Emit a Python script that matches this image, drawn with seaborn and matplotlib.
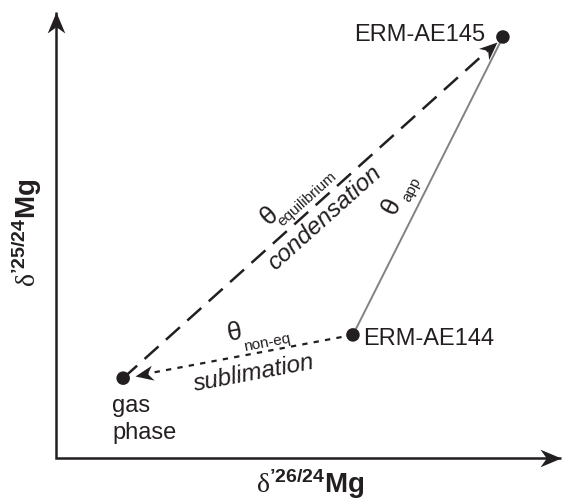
import numpy as np
import matplotlib
matplotlib.use("Agg")
import matplotlib.pyplot as plt
import seaborn as sns
import pandas as pd
from matplotlib.markers import MarkerStyle
from matplotlib.path import Path
from matplotlib.transforms import Affine2D

sns.set_theme(style="white")
plt.rcParams["font.family"] = ["Liberation Sans", "DejaVu Sans"]
plt.rcParams["mathtext.fontset"] = "custom"
plt.rcParams["mathtext.rm"] = "Liberation Serif"
plt.rcParams["mathtext.sf"] = "Liberation Sans"
plt.rcParams["mathtext.bf"] = "Liberation Sans:bold"
plt.rcParams["mathtext.it"] = "Liberation Sans:italic"
plt.rcParams["mathtext.default"] = "sf"

# ---- data (arbitrary units) ----
samples = ["gas phase", "ERM-AE144", "ERM-AE145"]
d26 = [1.33, 5.88, 8.85]
d25 = [1.79, 2.76, 9.44]
x_label = r"$\mathrm{δ}^{\mathbf{’26/24}}\mathbf{Mg}$"
y_label = r"$\mathrm{δ}^{\mathbf{’25/24}}\mathbf{Mg}$"

BLACK = "#231f20"
GRAY = "#808285"
W, H = 562, 504

fig = plt.figure(figsize=(W / 100, H / 100), dpi=100)
ax = fig.add_axes([56 / W, (H - 458) / H, (561 - 56) / W, (458 - 12) / H])
ax.set_xlim(0, 10)
ax.set_ylim(0, 10)
ax.axis("off")

df = pd.DataFrame({"sample": samples, "d26": d26, "d25": d25})

stealth = Path([(0, 0), (-1, 0.42), (-0.7, 0), (-1, -0.42), (0, 0)],
               [Path.MOVETO, Path.LINETO, Path.LINETO, Path.LINETO, Path.CLOSEPOLY])


def head(x, y, angle, length_px, transform=None, color=BLACK):
    m = MarkerStyle(stealth, transform=Affine2D().rotate_deg(angle))
    kw = dict(marker=m, markersize=2 * length_px * 0.72, markerfacecolor=color,
              markeredgewidth=0, linestyle="none", clip_on=False, zorder=5)
    if transform is not None:
        kw["transform"] = transform
    ax.plot([x], [y], **kw)


def disp(i):
    return ax.transData.transform((d26[i], d25[i]))


def to_data(p):
    return ax.transData.inverted().transform(p)


def pix(px, py):
    return to_data((px, H - py))


# ---- axes with arrows ----
ax.plot([0, 0, 1], [1, 0, 0], transform=ax.transAxes, color=BLACK, lw=1.8,
        clip_on=False, solid_joinstyle="miter", solid_capstyle="butt")
head(0, 1, 90, 21, transform=ax.transAxes)
head(1, 0, 0, 21, transform=ax.transAxes)

# ---- gray line AE144 -> AE145 ----
sns.lineplot(data=df.iloc[[1, 2]], x="d26", y="d25", sort=False, color=GRAY,
             lw=1.4, ax=ax, zorder=2)

# ---- dashed arrow gas -> AE145 ----
a, b = disp(0), disp(2)
u = (b - a) / np.linalg.norm(b - a)
ang_eq = np.degrees(np.arctan2(u[1], u[0]))
tip = b - u * 8
end = to_data(tip - u * 12)
ax.plot([d26[0], end[0]], [d25[0], end[1]], color=BLACK, lw=1.8,
        linestyle=(0, (7.5, 4)), dash_capstyle="butt", zorder=3)
tp = to_data(tip)
head(tp[0], tp[1], ang_eq, 18)

# ---- dotted arrow AE144 -> gas ----
a, b = disp(1), disp(0)
u = (b - a) / np.linalg.norm(b - a)
ang_ne = np.degrees(np.arctan2(u[1], u[0]))
tip = b - u * 12
end = to_data(tip - u * 12)
ax.plot([d26[1], end[0]], [d25[1], end[1]], color=BLACK, lw=1.6,
        linestyle=(0, (2.4, 2.8)), dash_capstyle="butt", zorder=3)
tp = to_data(tip)
head(tp[0], tp[1], ang_ne, 18)
rot_ne = ang_ne - 180

a, b = disp(1), disp(2)
ang_app = np.degrees(np.arctan2(b[1] - a[1], b[0] - a[0]))

# ---- points ----
sns.scatterplot(data=df, x="d26", y="d25", s=95, color=BLACK, edgecolor="none",
                ax=ax, zorder=6, legend=False)

# ---- point labels ----
ax.annotate("ERM-AE145", (d26[2], d25[2]), xytext=(-13, 1.5), textcoords="offset points",
            ha="right", va="center", fontsize=17, color=BLACK)
ax.annotate("ERM-AE144", (d26[1], d25[1]), xytext=(7, -3), textcoords="offset points",
            ha="left", va="center", fontsize=17, color=BLACK)
p = pix(112, 412)
ax.text(p[0], p[1], "gas", ha="left", va="baseline", fontsize=17, color=BLACK)
p = pix(112, 439)
ax.text(p[0], p[1], "phase", ha="left", va="baseline", fontsize=17, color=BLACK)


def rtext(px, py, s, rot, size, style="normal"):
    p = pix(px, py)
    ax.text(p[0], p[1], s, ha="center", va="center", rotation=rot,
            rotation_mode="anchor", fontsize=size, style=style, color=BLACK)


rtext(269, 216, "θ", ang_eq, 19)
rtext(307, 199, "equilibrium", ang_eq, 11)
rtext(325, 218, "condensation", ang_eq, 17.5, "italic")
rtext(392, 206, "θ", ang_app, 19)
rtext(412, 190, "app", ang_app, 11)
rtext(235, 333, "θ", rot_ne, 19)
rtext(267, 343, "non-eq", rot_ne, 11)
rtext(254, 373, "sublimation", rot_ne, 17.5, "italic")

# ---- axis labels ----
fig.text(310 / W, 1 - 484 / H, x_label, ha="center", va="center", fontsize=20, color=BLACK)
fig.text(27 / W, 1 - 233 / H, y_label, ha="center", va="center", rotation=90,
         fontsize=20, color=BLACK)

fig.savefig("out.png", dpi=100)
